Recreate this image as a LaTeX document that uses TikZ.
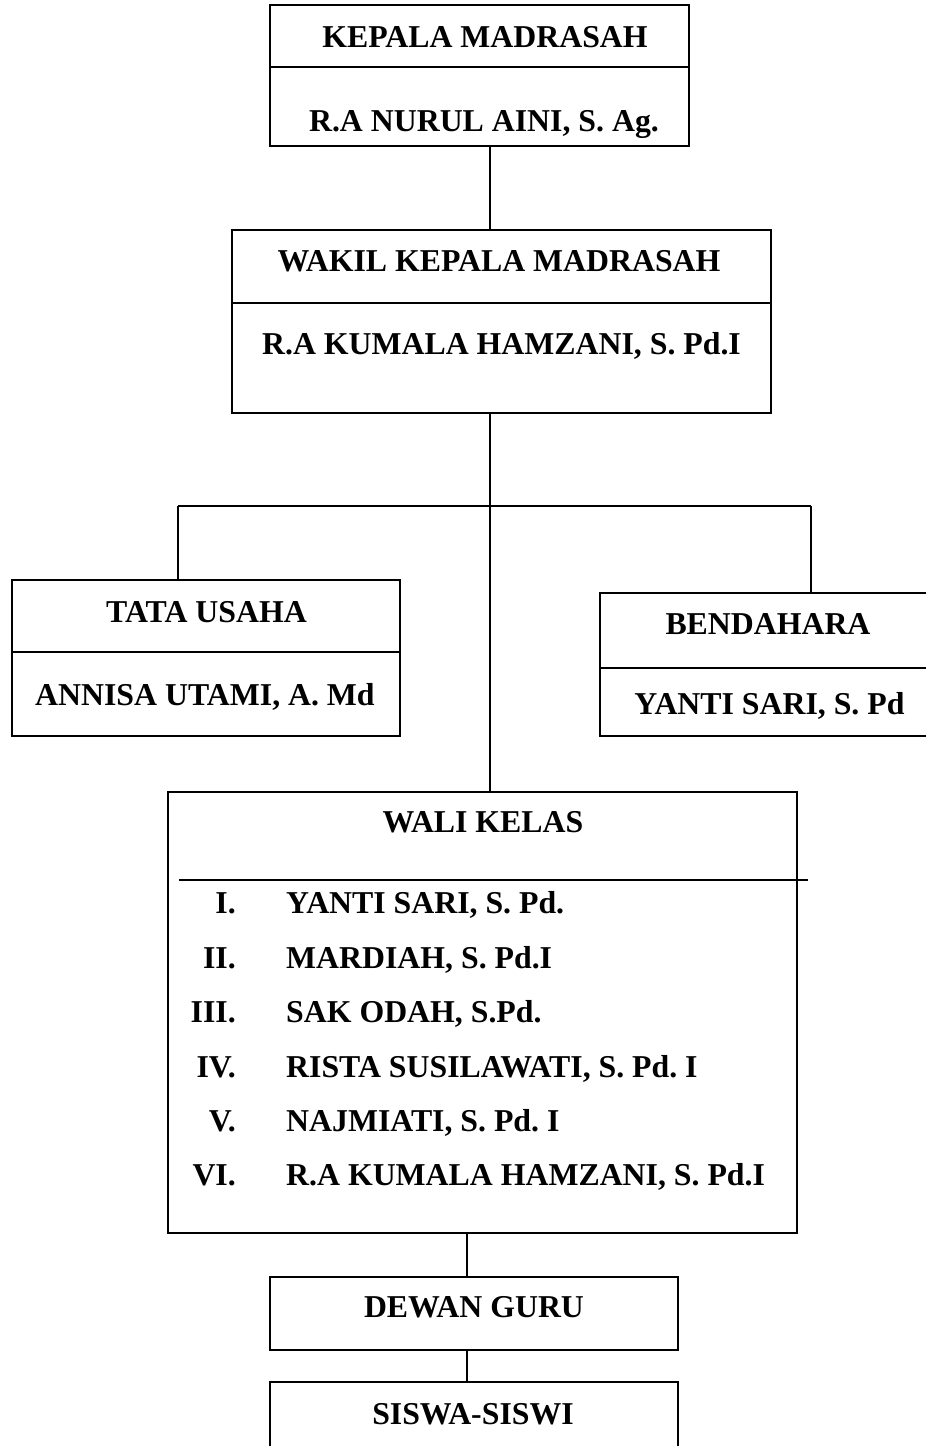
\documentclass[tikz,border=0pt]{standalone}
\usepackage{fontspec}
\setmainfont{Liberation Serif}
\frenchspacing
\begin{document}
\begin{tikzpicture}[x=1pt,y=-1pt,
  box/.style={draw, line width=1.6pt, rectangle, inner sep=0pt},
  conn/.style={line width=1.6pt},
  lbl/.style={anchor=base, inner sep=0pt, font=\fontsize{31.8}{36}\selectfont\bfseries\frenchspacing},
  lblw/.style={anchor=base west, inner sep=0pt, font=\fontsize{31.8}{36}\selectfont\bfseries\frenchspacing},
  lble/.style={anchor=base east, inner sep=0pt, font=\fontsize{31.8}{36}\selectfont\bfseries\frenchspacing}]
\useasboundingbox (0,0) rectangle (926,1446);
% boxes
\node[box, minimum width=419pt, minimum height=141pt] (kepala) at (479.5,75.5) {};
\node[box, minimum width=539pt, minimum height=183pt] (wakil) at (501.5,321.5) {};
\node[box, minimum width=388pt, minimum height=156pt] (tata) at (206,658) {};
\node[box, minimum width=335pt, minimum height=143pt] (bend) at (767.5,664.5) {};
\node[box, minimum width=629pt, minimum height=441pt] (wali) at (482.5,1012.5) {};
\node[box, minimum width=408pt, minimum height=73pt] (dewan) at (474,1313.5) {};
\node[box, minimum width=408pt, minimum height=78pt] (siswa) at (474,1421) {};
% dividers
\draw[conn] (kepala.west |- 0,67) -- (kepala.east |- 0,67);
\draw[conn] (wakil.west |- 0,303) -- (wakil.east |- 0,303);
\draw[conn] (tata.west |- 0,652) -- (tata.east |- 0,652);
\draw[conn] (bend.west |- 0,668) -- (bend.east |- 0,668);
\draw[conn] (179,880) -- (808,880);
% connector coordinates
\coordinate (trunk) at (490,0);
\coordinate (bl) at (178,506);
\coordinate (br) at (811,506);
\coordinate (low) at (467,0);
% connectors
\draw[conn] (kepala.south -| trunk) -- (wakil.north -| trunk);
\draw[conn] (wakil.south -| trunk) -- (wali.north -| trunk);
\draw[conn] (bl) -- (br);
\draw[conn] (bl) -- (tata.north -| bl);
\draw[conn] (br) -- (bend.north -| br);
\draw[conn] (wali.south -| low) -- (dewan.north -| low);
\draw[conn] (dewan.south -| low) -- (siswa.north -| low);
% labels
\node[lbl] (t1) at (485,47) {KEPALA MADRASAH};
\node[lbl] (t2) at (484,131) {R.A NURUL AINI, S. Ag.};
\node[lbl] (t3) at (499,271) {WAKIL KEPALA MADRASAH};
\node[lbl] (t4) at (501.5,354) {R.A KUMALA HAMZANI, S. Pd.I};
\node[lbl] (t5) at (206.5,622) {TATA USAHA};
\node[lbl] (t6) at (205,705) {ANNISA UTAMI, A. Md};
\node[lbl] (t7) at (768,634) {BENDAHARA};
\node[lbl] (t8) at (769.5,714) {YANTI SARI, S. Pd};
\node[lbl] (t9) at (483,832) {WALI KELAS};
\node[lble] (n1) at (236,913) {I.};
\node[lble] (n2) at (236,968) {II.};
\node[lble] (n3) at (236,1022) {III.};
\node[lble] (n4) at (236,1077) {IV.};
\node[lble] (n5) at (236,1131) {V.};
\node[lble] (n6) at (236,1185) {VI.};
\node[lblw] (m1) at (286,913) {YANTI SARI, S. Pd.};
\node[lblw] (m2) at (286,968) {MARDIAH, S. Pd.I};
\node[lblw] (m3) at (286,1022) {SAK ODAH, S.Pd.};
\node[lblw] (m4) at (286,1077) {RISTA SUSILAWATI, S. Pd. I};
\node[lblw] (m5) at (286,1131) {NAJMIATI, S. Pd. I};
\node[lblw] (m6) at (286,1185) {R.A KUMALA HAMZANI, S. Pd.I};
\node[lbl] (t10) at (474,1317) {DEWAN GURU};
\node[lbl] (t11) at (473,1424) {SISWA-SISWI};
\end{tikzpicture}
\end{document}
